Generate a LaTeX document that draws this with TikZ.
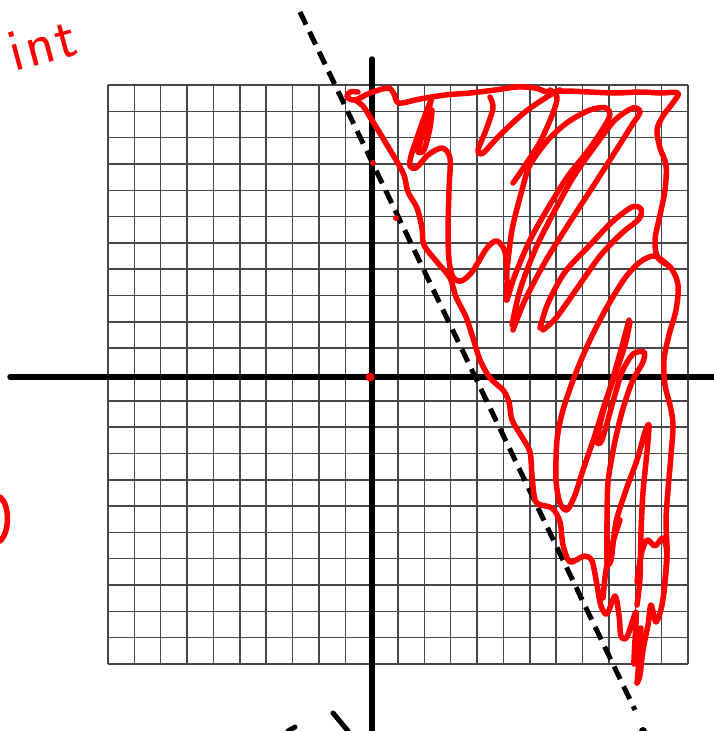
\documentclass[tikz,border=0pt]{standalone}
\begin{document}
\begin{tikzpicture}[x=1pt,y=-1pt,
  gridline/.style={black!72,line width=1.5},
  axisline/.style={black,line width=5.5,line cap=round},
  dashline/.style={black,line width=5,dash pattern=on 14 off 8},
  redstroke/.style={red,line width=5.5,line cap=round,line join=round},
  blackstroke/.style={black,line width=5,line cap=round}]
\useasboundingbox (0,0) rectangle (714,731);
\fill[white] (0,0) rectangle (714,731);
% grid
\foreach \i in {0,...,22}{
  \draw[gridline] ({108+\i*580/22},85) -- ({108+\i*580/22},664);
  \draw[gridline] (108,{85+\i*579/22}) -- (688,{85+\i*579/22});
}
% axes
\draw[axisline] (10,377) -- (714,377);
\draw[axisline] (372,59) -- (372,731);
% dashed line
\draw[dashline] (300,12) -- (635,710);
% red marks
\fill[red] (370,377) circle (4.5);
\fill[red] (373,163) circle (3);
\fill[red] (396,218) circle (3);
% red text
\node[red,rotate=15,font=\sffamily\fontsize{60}{60}\selectfont] (txt) at (42,44) {i\kern3pt n\kern2pt t};
% red arc at left
\draw[redstroke] (0,497) .. controls (10,505) and (10,532) .. (0,541);
% black fragments at bottom
\draw[blackstroke] (333,713) -- (348,731);
\draw[blackstroke] (288,731) -- (295,727);
\fill[black] (643,731) circle (4);
% red scribble
\draw[redstroke] plot[smooth,tension=0.55] coordinates {
 (358,92) (350,92) (347,97) (355,100) (370,93) (388,88) (394,94) (399,103) (420,99) (445,95)
 (470,93) (495,90) (517,87) (535,88) (548,92) (565,91) (590,92) (615,93) (640,92) (660,93)
 (678,93) (672,104) (663,116) (657,130) (660,148) (666,165) (665,190) (660,215) (655,240)
 (658,258) (671,268) (678,285) (676,310) (669,335) (664,360) (665,385) (670,405) (673,425)
 (671,455) (668,490) (666,520) (667,550) (665,580) (662,605) (656,622) (651,605) (648,625)
 (643,650) (640,675) (637,683)};
\draw[redstroke] plot[smooth,tension=0.5] coordinates {
 (355,100) (363,106) (370,117) (378,130) (387,145) (396,160) (404,175) (408,192) (417,208)
 (422,228) (424,245) (437,262) (450,278) (456,297) (466,317) (473,338) (480,360) (490,378)
 (503,390) (509,402) (512,420) (522,437) (530,452) (532,475) (536,502) (552,508) (560,522)
 (563,545) (570,562) (584,556) (592,561) (597,585) (601,606) (607,614) (615,596) (619,615)
 (621,636) (627,637) (636,612) (635,640) (634,664) (638,640) (641,628) (639,660) (637,683)};
% tongue and first loops
\draw[redstroke] plot[smooth,tension=0.5] coordinates {
 (431,100) (424,118) (417,138) (411,156) (410,166) (416,168) (428,155) (442,148) (450,158)
 (449,190) (448,230) (449,260) (453,277) (461,281) (472,272) (487,248) (497,241) (505,252)
 (507,280) (506,300)};
\draw[redstroke] plot[smooth,tension=0.5] coordinates {
 (431,100) (426,122) (420,143) (418,152) (424,150) (430,128) (432,110)};
\draw[redstroke] plot[smooth,tension=0.5] coordinates {
 (490,97) (493,108) (486,130) (478,150) (483,153) (500,135) (525,112) (550,95) (560,90)};
\draw[redstroke] plot[smooth,tension=0.5] coordinates {
 (513,183) (522,170) (540,142) (553,113) (557,97) (550,90)};
% long diagonal loops
\draw[redstroke] plot[smooth,tension=0.5] coordinates {
 (507,300) (515,275) (530,240) (548,208) (568,176) (590,148) (609,118) (606,108) (590,110)
 (568,122) (548,140) (530,165) (522,190) (512,230) (507,270)};
\draw[redstroke] plot[smooth,tension=0.5] coordinates {
 (513,330) (525,300) (545,262) (568,225) (592,188) (615,152) (632,125) (640,112) (633,108)
 (615,120) (595,146) (574,176) (554,212) (535,250) (520,290) (512,325)};
\draw[redstroke] plot[smooth,tension=0.5] coordinates {
 (540,328) (548,303) (565,272) (590,245) (612,222) (632,207) (641,209) (639,219) (622,233)
 (600,256) (578,287) (556,318) (543,330)};
% right loop into lower spikes
\draw[redstroke] plot[smooth,tension=0.5] coordinates {
 (670,267) (655,256) (640,262) (625,278) (607,307) (590,340) (575,375) (563,410) (557,440)
 (556,480) (560,503) (567,510) (575,495) (583,470) (595,435) (606,400) (615,375) (625,345)
 (630,322)};
\draw[redstroke] plot[smooth,tension=0.45] coordinates {
 (629,320) (621,350) (611,385) (601,420) (597,442) (602,440) (612,405) (622,372) (633,354)
 (644,352) (643,362) (632,382) (622,412) (614,446) (608,482) (607,522) (607,562) (611,560)
 (616,522) (626,490) (637,460) (645,432) (649,425) (647,452) (643,492) (641,532) (640,578)
 (637,605)};
\draw[redstroke] plot[smooth,tension=0.5] coordinates {
 (637,582) (641,555) (647,540) (655,546) (663,538) (667,555) (664,592)};
\draw[redstroke] plot[smooth,tension=0.5] coordinates {
 (603,598) (606,570) (612,545) (620,520)};
\end{tikzpicture}
\end{document}
